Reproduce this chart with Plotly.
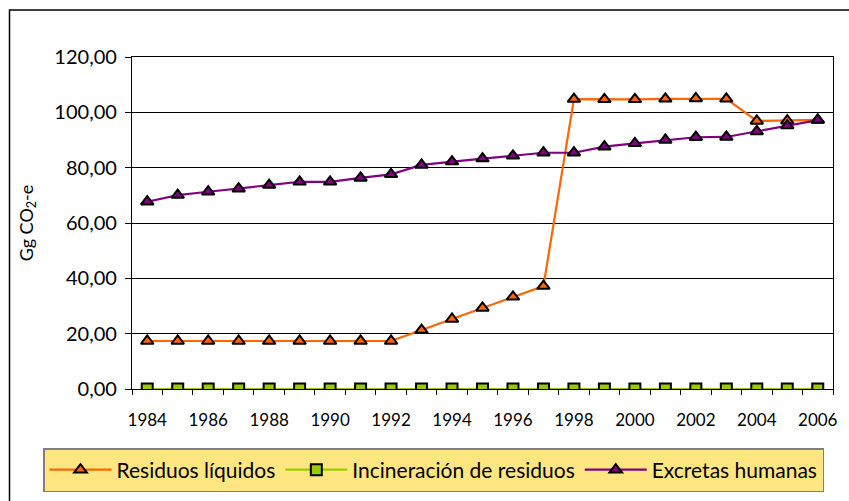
import plotly.graph_objects as go

# Years on the category axis
years = list(range(1984, 2007))

# Emissions in Gg CO2-e
residuos_liquidos = [17.35, 17.35, 17.35, 17.35, 17.35, 17.35, 17.35, 17.35, 17.35,
                     21.3, 25.3, 29.3, 33.3, 37.2, 104.8, 104.7, 104.7, 104.9,
                     105.0, 104.9, 96.9, 97.0, 97.3]
incineracion_residuos = [0.0] * 23
excretas_humanas = [67.7, 70.1, 71.3, 72.4, 73.7, 74.9, 74.9, 76.3, 77.6, 81.0,
                    82.2, 83.3, 84.3, 85.4, 85.4, 87.6, 88.8, 90.0, 91.0, 91.1,
                    93.1, 95.2, 97.2]

y_ticks = [0, 20, 40, 60, 80, 100, 120]
x_label_years = list(range(1984, 2007, 2))

FONT = "Lato, 'Open Sans', sans-serif"

fig = go.Figure()

fig.add_trace(go.Scatter(
    x=years, y=residuos_liquidos, name="Residuos líquidos", mode="lines+markers",
    line=dict(color="#FF6600", width=2.2),
    marker=dict(symbol="triangle-up", size=11, color="#FF6600",
                line=dict(color="#000000", width=2)),
))
fig.add_trace(go.Scatter(
    x=years, y=incineracion_residuos, name="Incineración de residuos", mode="lines+markers",
    line=dict(color="#99CC00", width=2.2),
    marker=dict(symbol="square", size=11, color="#99CC00",
                line=dict(color="#000000", width=2)),
))
fig.add_trace(go.Scatter(
    x=years, y=excretas_humanas, name="Excretas humanas", mode="lines+markers",
    line=dict(color="#800080", width=2.2),
    marker=dict(symbol="triangle-up", size=11, color="#800080",
                line=dict(color="#000000", width=2)),
))

W, H = 849, 501
L, R, T, B = 132, 16, 57, 112
pw, ph = W - L - R, H - T - B


def px_to_paper_x(px):
    return (px - L) / pw


def px_to_paper_y(py):
    return (H - B - py) / ph


fig.update_layout(
    width=W, height=H,
    margin=dict(l=L, r=R, t=T, b=B, autoexpand=False),
    paper_bgcolor="white", plot_bgcolor="white",
    separators=",.",
    font=dict(family=FONT, color="#000000"),
    showlegend=True,
    legend=dict(
        orientation="h",
        x=px_to_paper_x(43), xanchor="left",
        y=px_to_paper_y(448), yanchor="top",
        bgcolor="#FFE680", bordercolor="#7F7F7F", borderwidth=1.5,
        font=dict(family=FONT, size=21, color="#000000"),
        itemwidth=62,
    ),
    xaxis=dict(
        range=[1983.5, 2006.5],
        tickmode="array", tickvals=x_label_years,
        ticktext=[str(y) for y in x_label_years],
        ticks="", showgrid=False, zeroline=False,
        showline=True, linecolor="#000000", linewidth=1.2, mirror=True,
        tickfont=dict(family=FONT, size=17, color="#000000"),
        ticklabelstandoff=15,
        minor=dict(tick0=1983.5, dtick=1, ticks="outside", ticklen=5,
                   tickcolor="#000000", tickwidth=1, showgrid=False),
    ),
    yaxis=dict(
        range=[0, 120],
        tickmode="array", tickvals=y_ticks, tickformat=".2f",
        ticks="outside", ticklen=6, tickcolor="#000000",
        showgrid=True, gridcolor="#000000", gridwidth=1,
        zeroline=False,
        showline=True, linecolor="#000000", linewidth=1.2, mirror=True,
        tickfont=dict(family=FONT, size=20, color="#000000"),
        ticklabelstandoff=4,
        title=dict(text="Gg CO<sub>2</sub>-e",
                   font=dict(family=FONT, size=18, color="#000000"),
                   standoff=16),
    ),
    shapes=[dict(
        type="rect", xref="paper", yref="paper",
        x0=px_to_paper_x(9.5), x1=px_to_paper_x(880),
        y0=px_to_paper_y(530), y1=px_to_paper_y(10),
        line=dict(color="#000000", width=1.5), fillcolor="rgba(0,0,0,0)",
        layer="below",
    )],
)

fig.write_html("out.html")
